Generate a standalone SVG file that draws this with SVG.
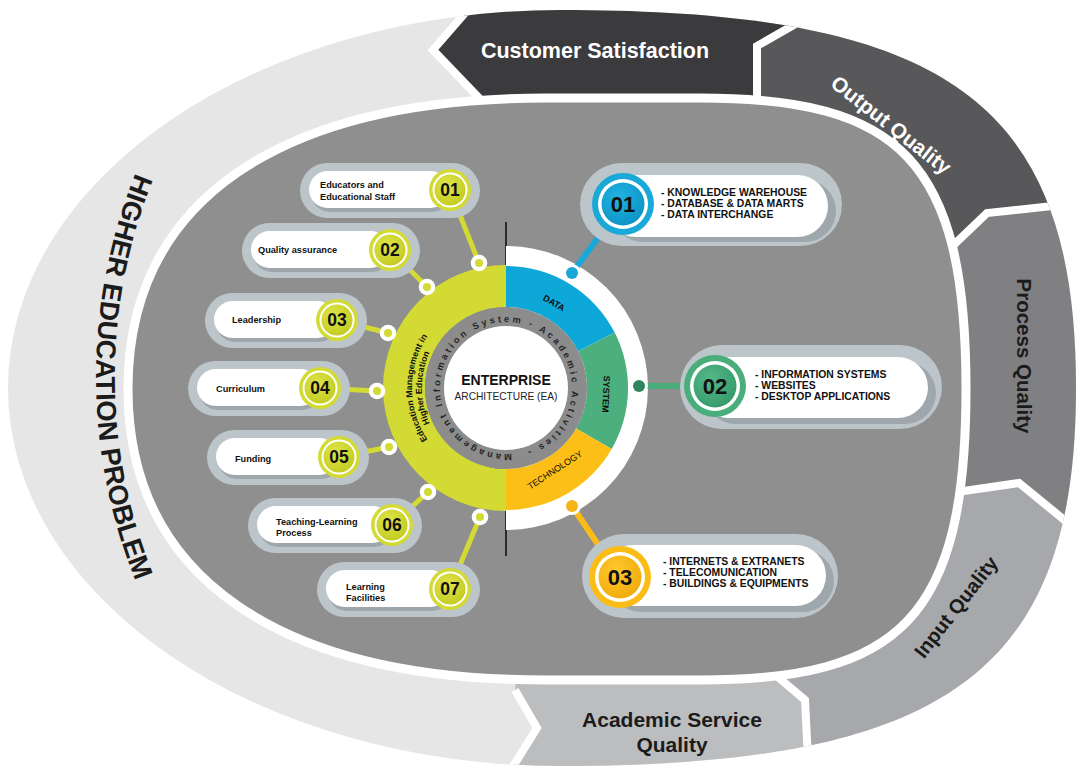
<svg xmlns="http://www.w3.org/2000/svg" width="1078" height="769" viewBox="0 0 1078 769">
  <defs>
    <style>
      .sans { font-family: "Liberation Sans", Arial, Helvetica, sans-serif; }
      .band-dark { font-family: "Liberation Sans", Arial, sans-serif; font-weight: bold; fill: #1b1b1b; }
      .band-light { font-family: "Liberation Sans", Arial, sans-serif; font-weight: bold; fill: #ffffff; }
      .pill-o { fill: #bcc6ca; }
      .pill-s { fill: #9ea8ac; }
      .pill-w { fill: #ffffff; }
      .lbl { font-family: "Liberation Sans", Arial, sans-serif; font-weight: bold; font-size: 9.2px; fill: #111; }
      .num-s { font-family: "Liberation Sans", Arial, sans-serif; font-weight: bold; font-size: 17.5px; fill: #111; text-anchor: middle; }
      .num-l { font-family: "Liberation Sans", Arial, sans-serif; font-weight: bold; font-size: 22px; fill: #111; text-anchor: middle; }
      .list { font-family: "Liberation Sans", Arial, sans-serif; font-weight: bold; font-size: 10.4px; fill: #111; }
      .seam { fill: none; stroke: #ffffff; stroke-width: 8; stroke-linejoin: miter; }
      .lime-line { stroke: #d3da33; stroke-width: 5; stroke-linecap: round; }
    </style>
    <clipPath id="outerClip">
      <path d="M560,10 C947,10 1076,102 1076,388 C1076,671 947,766 560,766 A552,378 0 0 1 8,388 A552,378 0 0 1 560,10 Z"/>
    </clipPath>
    <radialGradient id="limeIn" cx="0.4" cy="0.35" r="0.7">
      <stop offset="0" stop-color="#dfe54a"/>
      <stop offset="1" stop-color="#c3cb20"/>
    </radialGradient>
    <radialGradient id="blueIn" cx="0.4" cy="0.35" r="0.7">
      <stop offset="0" stop-color="#22b3e2"/>
      <stop offset="1" stop-color="#0c93c4"/>
    </radialGradient>
    <radialGradient id="greenIn" cx="0.4" cy="0.35" r="0.7">
      <stop offset="0" stop-color="#55b888"/>
      <stop offset="1" stop-color="#35996a"/>
    </radialGradient>
    <radialGradient id="yellowIn" cx="0.4" cy="0.35" r="0.7">
      <stop offset="0" stop-color="#ffc92e"/>
      <stop offset="1" stop-color="#f0aa0a"/>
    </radialGradient>
    <path id="arcProblem" d="M156.5,127 A547,547 0 0 0 156.5,627"/>
    <path id="arcMis" d="M511.75,453.75 A66,66 0 1 1 500.25,322.25 A66,66 0 1 1 511.75,453.75"/>
    <path id="arcEdu1" d="M445.6,460 A94,94 0 0 1 445.6,316"/>
    <path id="arcEdu2" d="M452,452.4 A84,84 0 0 1 452,323.6"/>
  </defs>

  <!-- outer band: quality cycle -->
  <g id="band" clip-path="url(#outerClip)">
    <rect x="0" y="0" width="1078" height="769" fill="#e6e6e6"/>
    <polygon id="seg-customer" fill="#3b3b3d" points="546,390 481,100 433,50 485,-10 855,-10 757,46 757,115"/>
    <polygon id="seg-output" fill="#58585a" points="546,390 757,115 757,46 855,-10 1100,-10 1100,201 987,213 940,258"/>
    <polygon id="seg-process" fill="#808083" points="546,390 940,258 987,213 1100,201 1100,549 1062,518 1019,483 950,493"/>
    <polygon id="seg-input" fill="#a7a8ab" points="546,390 950,493 1019,483 1100,549 1100,800 810,800 805,700 772,672"/>
    <polygon id="seg-academic" fill="#bcbdbf" points="546,390 772,672 805,700 810,800 492,800 537,728 515,690"/>
    <polyline class="seam" points="481,100 433,50 485,-10"/>
    <polyline class="seam" points="757,115 757,46 855,-10"/>
    <polyline class="seam" points="940,258 987,213 1100,201"/>
    <polyline class="seam" points="950,493 1019,483 1100,549"/>
    <polyline class="seam" points="772,672 805,700 810,800"/>
    <polyline class="seam" points="515,690 537,728 492,800"/>
  </g>

  <!-- band labels -->
  <g id="band-labels">
    <text class="band-light" x="595" y="58" font-size="21.5" text-anchor="middle">Customer Satisfaction</text>
    <text class="band-light" font-size="21" text-anchor="middle" transform="translate(891,125) rotate(38)" y="7">Output Quality</text>
    <text class="band-dark" font-size="20.5" text-anchor="middle" transform="translate(1024,356) rotate(90)" y="7">Process Quality</text>
    <text class="band-dark" font-size="20" text-anchor="middle" transform="translate(956,607) rotate(-52)" y="7">Input Quality</text>
    <text class="band-dark" font-size="21" text-anchor="middle" x="672" y="727">Academic Service</text>
    <text class="band-dark" font-size="21" text-anchor="middle" x="672" y="752">Quality</text>
    <text class="band-dark" font-size="27.3"><textPath href="#arcProblem" startOffset="50%" text-anchor="middle">HIGHER EDUCATION PROBLEM</textPath></text>
  </g>

  <!-- inner field -->
  <path id="field" d="M546,98 L700,98 C900,98 966,160 966,389 C966,618 900,680 700,680 L546,680 C280,680 128,578 128,389 C128,200 280,98 546,98 Z" fill="#8f8f8f" stroke="#ffffff" stroke-width="9"/>

  <!-- axis line -->
  <line x1="506" y1="222" x2="506" y2="556" stroke="#2a2a2a" stroke-width="2"/>

  <!-- enterprise architecture hub -->
  <g id="hub">
    <path d="M506,246 A142,142 0 0 1 506,530 Z" fill="#ffffff"/>
    <path d="M506,265 A123,123 0 0 0 506,511 L506,469 A81,81 0 0 1 506,307 Z" fill="#d3da33"/>
    <path id="sec-data" d="M506,266 A122,122 0 0 1 614.7,332.6 L578.2,351.2 A81,81 0 0 0 506,307 Z" fill="#0ea8d8"/>
    <path id="sec-system" d="M614.7,332.6 A122,122 0 0 1 611.7,449 L576.1,428.5 A81,81 0 0 0 578.2,351.2 Z" fill="#4caf7e"/>
    <path id="sec-tech" d="M611.7,449 A122,122 0 0 1 506,510 L506,469 A81,81 0 0 0 576.1,428.5 Z" fill="#fcbf17"/>
    <circle cx="506" cy="388" r="81" fill="#8c8c8c"/>
    <circle cx="506" cy="388" r="62" fill="#ffffff"/>
    <text class="sans" font-size="9.2" font-weight="bold" fill="#262626"><textPath href="#arcMis" textLength="398" lengthAdjust="spacing">Management Information System - Academic Activities -</textPath></text>
    <text class="sans" font-size="14" font-weight="bold" fill="#111" x="506" y="385" text-anchor="middle">ENTERPRISE</text>
    <text class="sans" font-size="10.2" fill="#222" x="506" y="400" text-anchor="middle">ARCHITECTURE (EA)</text>
    <text class="sans" font-size="8.8" font-weight="bold" fill="#111"><textPath href="#arcEdu1" startOffset="50%" text-anchor="middle">Education Management in</textPath></text>
    <text class="sans" font-size="8.8" font-weight="bold" fill="#111"><textPath href="#arcEdu2" startOffset="50%" text-anchor="middle">Higher Education</textPath></text>
    <text class="sans" font-size="9" font-weight="bold" fill="#111" text-anchor="middle" transform="translate(554,303) rotate(30)" y="3">DATA</text>
    <text class="sans" font-size="9" font-weight="bold" fill="#111" text-anchor="middle" transform="translate(606,394) rotate(92)" y="3">SYSTEM</text>
    <text class="sans" font-size="9" fill="#111" text-anchor="middle" transform="translate(555,470) rotate(-33)" y="3">TECHNOLOGY</text>
  </g>

  <!-- connectors -->
  <g id="connectors">
    <line class="lime-line" x1="450" y1="190" x2="479" y2="263"/>
    <line class="lime-line" x1="390" y1="250" x2="427" y2="287"/>
    <line class="lime-line" x1="337" y1="320" x2="388" y2="333"/>
    <line class="lime-line" x1="320" y1="388" x2="377" y2="391"/>
    <line class="lime-line" x1="339" y1="457" x2="389" y2="447"/>
    <line class="lime-line" x1="392" y1="525" x2="428" y2="492"/>
    <line class="lime-line" x1="450" y1="589" x2="480" y2="517"/>
    <line x1="572" y1="273" x2="623" y2="204" stroke="#1aa8d8" stroke-width="6"/>
    <line x1="639" y1="386" x2="715" y2="386" stroke="#4aae7c" stroke-width="6"/>
    <line x1="572" y1="506" x2="620" y2="577" stroke="#fbbd15" stroke-width="6"/>
    <g fill="#ffffff">
      <circle cx="479" cy="263" r="8.3"/>
      <circle cx="427" cy="287" r="8.3"/>
      <circle cx="388" cy="333" r="8.3"/>
      <circle cx="377" cy="391" r="8.3"/>
      <circle cx="389" cy="447" r="8.3"/>
      <circle cx="428" cy="492" r="8.3"/>
      <circle cx="480" cy="517" r="8.3"/>
      <circle cx="572" cy="273" r="9"/>
      <circle cx="639" cy="386" r="9"/>
      <circle cx="572" cy="506" r="9"/>
    </g>
    <g fill="#d3da33">
      <circle cx="479" cy="263" r="4"/>
      <circle cx="427" cy="287" r="4"/>
      <circle cx="388" cy="333" r="4"/>
      <circle cx="377" cy="391" r="4"/>
      <circle cx="389" cy="447" r="4"/>
      <circle cx="428" cy="492" r="4"/>
      <circle cx="480" cy="517" r="4"/>
    </g>
    <circle cx="572" cy="273" r="6" fill="#1aa8d8"/>
    <circle cx="639" cy="386" r="6" fill="#2f855c"/>
    <circle cx="572" cy="506" r="6" fill="#f7b416"/>
  </g>

  <!-- education management factors -->
  <g id="node-l01">
    <rect class="pill-o" x="300" y="163" width="180" height="55" rx="27.5"/>
    <rect class="pill-s" x="311" y="174" width="140" height="38" rx="19"/>
    <rect class="pill-w" x="309" y="171" width="140" height="37" rx="18.5"/>
    <text class="lbl" x="320" y="188">Educators and</text>
    <text class="lbl" x="320" y="200">Educational Staff</text>
    <circle cx="450" cy="190" r="21" fill="#d3da33"/><circle cx="450" cy="190" r="17.5" fill="#fff"/><circle cx="450" cy="190" r="15.5" fill="url(#limeIn)"/>
    <text class="num-s" x="450" y="196">01</text>
  </g>
  <g id="node-l02">
    <rect class="pill-o" x="242" y="223" width="178" height="55" rx="27.5"/>
    <rect class="pill-s" x="253" y="234" width="138" height="38" rx="19"/>
    <rect class="pill-w" x="251" y="231" width="138" height="37" rx="18.5"/>
    <text class="lbl" x="258" y="253">Quality assurance</text>
    <circle cx="390" cy="250" r="21" fill="#d3da33"/><circle cx="390" cy="250" r="17.5" fill="#fff"/><circle cx="390" cy="250" r="15.5" fill="url(#limeIn)"/>
    <text class="num-s" x="390" y="256">02</text>
  </g>
  <g id="node-l03">
    <rect class="pill-o" x="205" y="293" width="162" height="55" rx="27.5"/>
    <rect class="pill-s" x="216" y="304" width="122" height="38" rx="19"/>
    <rect class="pill-w" x="214" y="301" width="122" height="37" rx="18.5"/>
    <text class="lbl" x="232" y="323">Leadership</text>
    <circle cx="337" cy="320" r="21" fill="#d3da33"/><circle cx="337" cy="320" r="17.5" fill="#fff"/><circle cx="337" cy="320" r="15.5" fill="url(#limeIn)"/>
    <text class="num-s" x="337" y="326">03</text>
  </g>
  <g id="node-l04">
    <rect class="pill-o" x="188" y="361" width="162" height="55" rx="27.5"/>
    <rect class="pill-s" x="199" y="372" width="122" height="38" rx="19"/>
    <rect class="pill-w" x="197" y="369" width="122" height="37" rx="18.5"/>
    <text class="lbl" x="216" y="392">Curriculum</text>
    <circle cx="320" cy="388" r="21" fill="#d3da33"/><circle cx="320" cy="388" r="17.5" fill="#fff"/><circle cx="320" cy="388" r="15.5" fill="url(#limeIn)"/>
    <text class="num-s" x="320" y="394">04</text>
  </g>
  <g id="node-l05">
    <rect class="pill-o" x="207" y="430" width="162" height="55" rx="27.5"/>
    <rect class="pill-s" x="218" y="441" width="122" height="38" rx="19"/>
    <rect class="pill-w" x="216" y="438" width="122" height="37" rx="18.5"/>
    <text class="lbl" x="235" y="462">Funding</text>
    <circle cx="339" cy="457" r="21" fill="#d3da33"/><circle cx="339" cy="457" r="17.5" fill="#fff"/><circle cx="339" cy="457" r="15.5" fill="url(#limeIn)"/>
    <text class="num-s" x="339" y="463">05</text>
  </g>
  <g id="node-l06">
    <rect class="pill-o" x="248" y="498" width="174" height="55" rx="27.5"/>
    <rect class="pill-s" x="259" y="509" width="134" height="38" rx="19"/>
    <rect class="pill-w" x="257" y="506" width="134" height="37" rx="18.5"/>
    <text class="lbl" x="276" y="525">Teaching-Learning</text>
    <text class="lbl" x="276" y="536">Process</text>
    <circle cx="392" cy="525" r="21" fill="#d3da33"/><circle cx="392" cy="525" r="17.5" fill="#fff"/><circle cx="392" cy="525" r="15.5" fill="url(#limeIn)"/>
    <text class="num-s" x="392" y="531">06</text>
  </g>
  <g id="node-l07">
    <rect class="pill-o" x="317" y="562" width="163" height="55" rx="27.5"/>
    <rect class="pill-s" x="328" y="573" width="123" height="38" rx="19"/>
    <rect class="pill-w" x="326" y="570" width="123" height="37" rx="18.5"/>
    <text class="lbl" x="346" y="590">Learning</text>
    <text class="lbl" x="346" y="601">Facilities</text>
    <circle cx="450" cy="589" r="21" fill="#d3da33"/><circle cx="450" cy="589" r="17.5" fill="#fff"/><circle cx="450" cy="589" r="15.5" fill="url(#limeIn)"/>
    <text class="num-s" x="450" y="595">07</text>
  </g>

  <!-- enterprise architecture layers -->
  <g id="node-r01">
    <rect class="pill-o" x="580" y="163" width="262" height="83" rx="41.5"/>
    <rect class="pill-s" x="612" y="180" width="224" height="62" rx="31"/>
    <rect class="pill-w" x="605" y="175" width="223" height="62" rx="31"/>
    <circle cx="623" cy="204" r="31" fill="#1aa8d8"/><circle cx="623" cy="204" r="25" fill="#fff"/><circle cx="623" cy="204" r="21.5" fill="url(#blueIn)"/>
    <text class="num-l" x="623" y="212">01</text>
    <text class="list" x="661" y="196">- KNOWLEDGE WAREHOUSE</text>
    <text class="list" x="661" y="207">- DATABASE &amp; DATA MARTS</text>
    <text class="list" x="661" y="218">- DATA INTERCHANGE</text>
  </g>
  <g id="node-r02">
    <rect class="pill-o" x="680" y="345" width="262" height="84" rx="42"/>
    <rect class="pill-s" x="705" y="362" width="231" height="62" rx="31"/>
    <rect class="pill-w" x="698" y="357" width="230" height="61" rx="30.5"/>
    <circle cx="715" cy="386" r="31" fill="#4aae7c"/><circle cx="715" cy="386" r="25" fill="#fff"/><circle cx="715" cy="386" r="21.5" fill="url(#greenIn)"/>
    <text class="num-l" x="715" y="394">02</text>
    <text class="list" x="755" y="378">- INFORMATION SYSTEMS</text>
    <text class="list" x="755" y="389">- WEBSITES</text>
    <text class="list" x="755" y="400">- DESKTOP APPLICATIONS</text>
  </g>
  <g id="node-r03">
    <rect class="pill-o" x="582" y="534" width="256" height="84" rx="42"/>
    <rect class="pill-s" x="610" y="550" width="224" height="62" rx="31"/>
    <rect class="pill-w" x="603" y="545" width="223" height="61" rx="30.5"/>
    <circle cx="620" cy="577" r="31" fill="#fbbd15"/><circle cx="620" cy="577" r="25" fill="#fff"/><circle cx="620" cy="577" r="21.5" fill="url(#yellowIn)"/>
    <text class="num-l" x="620" y="585">03</text>
    <text class="list" x="663" y="565">- INTERNETS &amp; EXTRANETS</text>
    <text class="list" x="663" y="576">- TELECOMUNICATION</text>
    <text class="list" x="663" y="587">- BUILDINGS &amp; EQUIPMENTS</text>
  </g>
</svg>
